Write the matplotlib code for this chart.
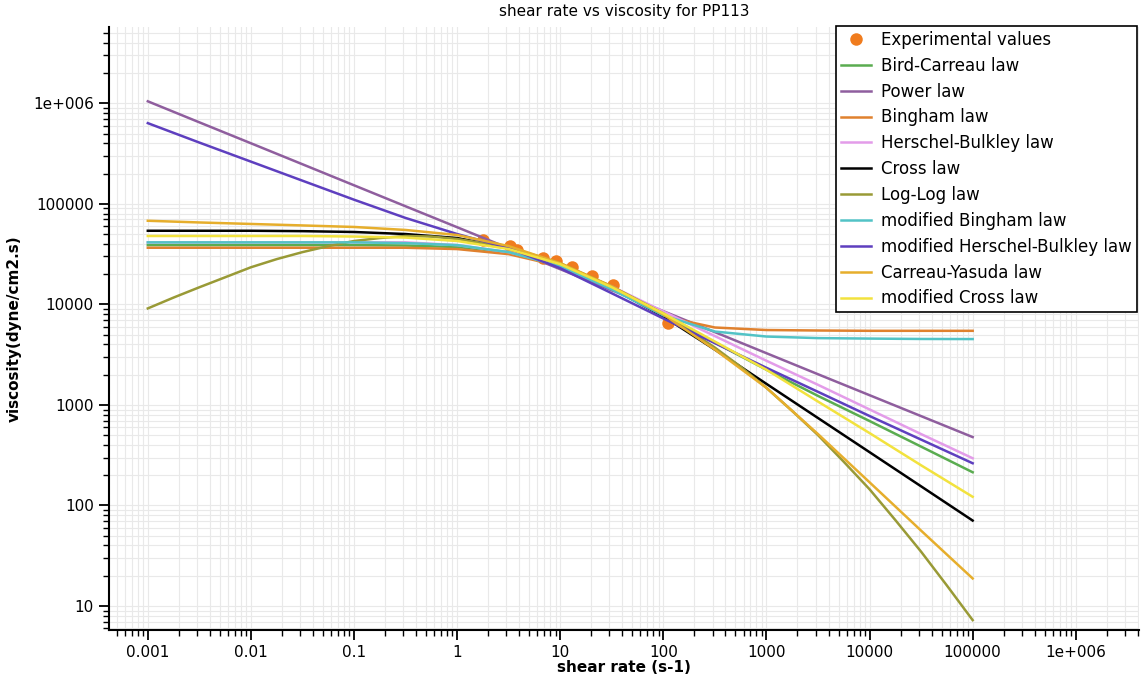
import matplotlib
matplotlib.use("Agg")
import matplotlib.pyplot as plt
from matplotlib.ticker import FixedLocator, FixedFormatter, LogLocator, NullFormatter

# --- data ---
# shear rate grid (s-1) used for the model curves
shear_rate = [0.001, 0.00316, 0.01, 0.0316, 0.1, 0.316, 1, 3.16, 10, 31.6,
              100, 316, 1000, 3162, 10000, 31623, 100000]

bird_carreau = [38900, 38900, 38900, 38900, 38900, 38500, 37200, 33100, 24500,
                14500, 7760, 4170, 2240, 1230, 692, 385, 214]
power_law = [1047000, 647000, 400500, 247700, 153000, 94600, 58550, 36200, 22390,
             13840, 8560, 5300, 3270, 2020, 1250, 774, 479]
bingham = [36600, 36600, 36600, 36600, 36600, 36600, 35500, 31600, 24000,
           14800, 7590, 5890, 5560, 5500, 5460, 5460, 5460]
herschel_bulkley = [41400, 41400, 41400, 41400, 41400, 41400, 38900, 33100, 24500,
                    15100, 8510, 4840, 2750, 1585, 902, 513, 295]
cross = [54000, 54000, 54000, 53500, 52500, 50100, 45700, 36300, 25100,
         14500, 7590, 3550, 1620, 741, 339, 155, 70.8]
mod_bingham = [41400, 41400, 41400, 41400, 41400, 40700, 38900, 33100, 24000,
               14100, 7760, 5370, 4790, 4620, 4570, 4530, 4520]
mod_herschel_bulkley = [635000, 407000, 263000, 170000, 110000, 72400, 50100, 36300,
                        22900, 12900, 7240, 4120, 2340, 1350, 776, 452, 263]
carreau_yasuda = [67900, 65300, 63100, 61000, 58900, 55000, 49000, 38000, 25700,
                  15100, 7940, 3550, 1480, 513, 170, 56.2, 18.8]
mod_cross = [47900, 47900, 47900, 47900, 47300, 46200, 42700, 35500, 25100,
             14800, 8130, 4270, 2240, 1080, 525, 251, 122]

# the Log-Log curve bends a lot, so it is read on a finer grid
loglog_shear = [0.001, 0.00178, 0.00316, 0.00562, 0.01, 0.0178, 0.0316, 0.0562,
                0.1, 0.178, 0.316, 0.562, 1, 3.16, 10, 31.6, 100, 316, 562, 1000,
                1778, 3162, 5623, 10000, 17783, 31623, 56234, 100000]
log_log = [9120, 11700, 14800, 18600, 23400, 28200, 33100, 38000,
           42700, 45700, 47900, 47300, 44700, 37200, 25700, 15100, 8130, 3720, 2400,
           1480, 871, 501, 272, 145, 71.6, 34.7, 16.0, 7.24]

exp_shear = [1.8, 3.25, 3.8, 6.8, 9.1, 12.9, 20.3, 32.4, 111]
exp_visc = [43600, 38000, 34700, 28900, 27000, 23500, 19100, 15600, 6520]

x_ticks = [0.001, 0.01, 0.1, 1, 10, 100, 1000, 10000, 100000, 1000000]
x_tick_labels = ["0.001", "0.01", "0.1", "1", "10", "100", "1000", "10000", "100000", "1e+006"]
y_ticks = [10, 100, 1000, 10000, 100000, 1000000]
y_tick_labels = ["10", "100", "1000", "10000", "100000", "1e+006"]

models = [
    ("Bird-Carreau law", shear_rate, bird_carreau, "#5aac50"),
    ("Power law", shear_rate, power_law, "#8f5e9e"),
    ("Bingham law", shear_rate, bingham, "#e0812e"),
    ("Herschel-Bulkley law", shear_rate, herschel_bulkley, "#e39ce9"),
    ("Cross law", shear_rate, cross, "#000000"),
    ("Log-Log law", loglog_shear, log_log, "#999a36"),
    ("modified Bingham law", shear_rate, mod_bingham, "#52c3c6"),
    ("modified Herschel-Bulkley law", shear_rate, mod_herschel_bulkley, "#5e3fbf"),
    ("Carreau-Yasuda law", shear_rate, carreau_yasuda, "#e6ae2c"),
    ("modified Cross law", shear_rate, mod_cross, "#f2e23e"),
]

# --- figure ---
fig = plt.figure(figsize=(11.41, 6.82), dpi=100)
ax = fig.add_axes([0.0955, 0.0762, 0.9027, 0.8842])

ax.plot(exp_shear, exp_visc, linestyle="none", marker="o", markersize=9,
        color="#f07c1e", markeredgewidth=0, label="Experimental values", zorder=2)
for name, xs, vals, col in models:
    ax.plot(xs, vals, color=col, linewidth=1.8, label=name, zorder=3)

ax.set_xscale("log")
ax.set_yscale("log")
ax.set_xlim(4.2e-4, 4.1e6)
ax.set_ylim(5.77, 5.74e6)

ax.xaxis.set_major_locator(FixedLocator(x_ticks))
ax.xaxis.set_major_formatter(FixedFormatter(x_tick_labels))
ax.yaxis.set_major_locator(FixedLocator(y_ticks))
ax.yaxis.set_major_formatter(FixedFormatter(y_tick_labels))
for axis in (ax.xaxis, ax.yaxis):
    axis.set_minor_locator(LogLocator(base=10, subs=range(2, 10), numticks=30))
    axis.set_minor_formatter(NullFormatter())

ax.grid(True, which="both", color="#e9e9e9", linewidth=0.8)
ax.set_axisbelow(True)
for s in ("top", "right"):
    ax.spines[s].set_visible(False)
for s in ("left", "bottom"):
    ax.spines[s].set_linewidth(1.5)
ax.tick_params(which="major", length=7, width=1.3, labelsize=11, pad=4)
ax.tick_params(which="minor", length=4, width=1.0)

ax.set_title("shear rate vs viscosity for PP113", fontsize=11, pad=8)
ax.set_xlabel("shear rate (s-1)", fontsize=11, fontweight="bold", labelpad=0)
ax.set_ylabel("viscosity(dyne/cm2.s)", fontsize=11, fontweight="bold", labelpad=8)

leg = ax.legend(loc="upper right", bbox_to_anchor=(1137 / 1141, 1 - 26 / 682),
                bbox_transform=fig.transFigure, fontsize=12, frameon=True,
                fancybox=False, borderaxespad=0, borderpad=0.3, labelspacing=0.47,
                handlelength=1.8, handletextpad=0.6)
leg.get_frame().set_edgecolor("black")
leg.get_frame().set_linewidth(1.2)
leg.get_frame().set_alpha(1)

fig.savefig("out.png", dpi=100)
